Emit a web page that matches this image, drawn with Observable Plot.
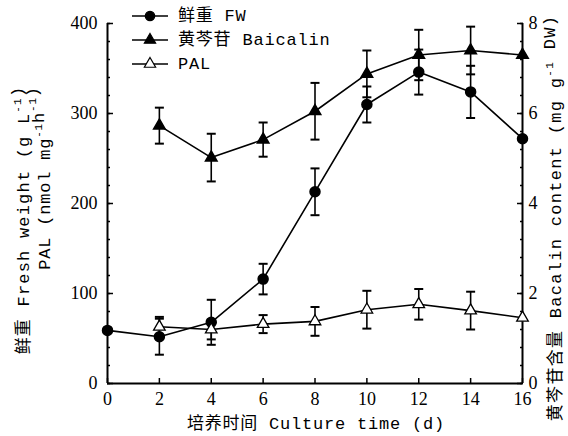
<!DOCTYPE html>
<html><head><meta charset="utf-8">
<script src="https://cdn.jsdelivr.net/npm/d3@7"></script>
<script src="https://cdn.jsdelivr.net/npm/@observablehq/plot@0.6"></script>
<style>body{margin:0;background:#fff} #chart{width:568px;height:436px}
#chart svg text.tick { font-family: "Liberation Serif", "DejaVu Serif", serif !important; }
</style>
</head><body><div id="chart"></div>
<script>
// ---- data ----
const fwDays  = [0, 2, 4, 6, 8, 10, 12, 14, 16];
const fwMean  = [59, 52, 68, 116, 213, 310, 346, 324, 272];   // g L-1 (left axis)
const fwErr   = [0, 20, 25, 17, 26, 20, 25, 29, 0];

const baiDays = [2, 4, 6, 8, 10, 12, 14, 16];
const baiMean = [5.73, 5.02, 5.42, 6.05, 6.88, 7.30, 7.40, 7.30]; // mg g-1 DW (right axis)
const baiErr  = [0.40, 0.53, 0.38, 0.63, 0.52, 0.56, 0.53, 0];

const palDays = [2, 4, 6, 8, 10, 12, 14, 16];
const palMean = [63, 60, 66, 69, 82, 88, 81, 73];              // nmol mg-1 h-1 (left axis)
const palErr  = [11, 11, 10, 16, 21, 17, 21, 0];

const xTicks      = [0, 2, 4, 6, 8, 10, 12, 14, 16];
const leftTicks   = [0, 100, 200, 300, 400];
const rightTicks  = [0, 2, 4, 6, 8];
const legendNames = ["鲜重 FW", "黄芩苷 Baicalin", "PAL"];

const leftMax = 400, rightMax = 8, k = leftMax / rightMax; // right axis mapped onto left

const fw  = fwDays.map((x, i) => ({x, y: fwMean[i], e: fwErr[i]}));
const bai = baiDays.map((x, i) => ({x, y: baiMean[i] * k, e: baiErr[i] * k}));
const pal = palDays.map((x, i) => ({x, y: palMean[i], e: palErr[i]}));
const bars = [...fw, ...bai, ...pal].filter(d => d.e > 0);

const cap = {draw(ctx) { ctx.moveTo(-4.5, 0); ctx.lineTo(4.5, 0); }};
const serif = "'Liberation Serif', 'DejaVu Serif', serif";
const blank = () => "";

const plot = Plot.plot({
  width: 568, height: 436,
  marginLeft: 107, marginRight: 46, marginTop: 23, marginBottom: 53,
  style: {fontSize: "18px", color: "#000", background: "#fff"},
  x: {domain: [0, 16]},
  y: {domain: [0, leftMax]},
  marks: [
    // frame lines
    Plot.ruleY([0], {strokeWidth: 2}),
    Plot.ruleX([0], {strokeWidth: 2}),
    Plot.ruleX([16], {strokeWidth: 2}),
    // x axis
    Plot.axisX({ticks: xTicks, tickSize: -5, tickFormat: blank, label: null, strokeWidth: 1.5}),
    Plot.axisX({ticks: xTicks, tickSize: 0, tickPadding: 9, label: null, fontSize: 18}),
    // left axis
    Plot.axisY({ticks: d3.range(0, leftMax + 1, 20), tickSize: -3, tickFormat: blank, label: null, strokeWidth: 1.5}),
    Plot.axisY({ticks: leftTicks, tickSize: -6, tickFormat: blank, label: null, strokeWidth: 1.5}),
    Plot.axisY({ticks: leftTicks, tickSize: 0, tickPadding: 10, label: null, fontSize: 18}),
    // right axis
    Plot.axisY({anchor: "right", ticks: d3.range(0, leftMax + 1, 20), tickSize: -3, tickFormat: blank, label: null, strokeWidth: 1.5}),
    Plot.axisY({anchor: "right", ticks: leftTicks, tickSize: -6, tickFormat: blank, label: null, strokeWidth: 1.5}),
    Plot.axisY({anchor: "right", ticks: rightTicks.map(v => v * k), tickSize: 0, tickPadding: 6, label: null,
                fontSize: 18, tickFormat: d => d / k}),
    // error bars
    Plot.ruleX(bars, {x: "x", y1: d => d.y - d.e, y2: d => d.y + d.e, strokeWidth: 1.6}),
    Plot.dot(bars, {x: "x", y: d => d.y - d.e, symbol: cap, stroke: "black", strokeWidth: 2}),
    Plot.dot(bars, {x: "x", y: d => d.y + d.e, symbol: cap, stroke: "black", strokeWidth: 2}),
    // lines
    Plot.line(fw,  {x: "x", y: "y", strokeWidth: 1.6}),
    Plot.line(bai, {x: "x", y: "y", strokeWidth: 1.6}),
    Plot.line(pal, {x: "x", y: "y", strokeWidth: 1.6}),
    // markers
    Plot.dot(fw,  {x: "x", y: "y", r: 5, fill: "black", stroke: "black"}),
    Plot.dot(bai, {x: "x", y: "y", r: 4.3, symbol: "triangle", fill: "black", stroke: "black"}),
    Plot.dot(pal, {x: "x", y: "y", r: 4.3, symbol: "triangle", fill: "white", stroke: "black", strokeWidth: 1.3})
  ]
});
document.getElementById("chart").appendChild(plot);

const svg = d3.select(plot);
// tick numbers in a serif face
plot.style.fontFamily = serif;
svg.selectAll("text").classed("tick", true)
  .attr("font-family", serif).style("font-family", serif);

// ---- titles and legend (text added to the same SVG) ----
const titleFont = "'Liberation Mono', 'Noto Sans CJK SC', monospace";

function title(x, y, rotate, parts, ls) {
  const t = svg.append("text")
    .attr("transform", `translate(${x},${y}) rotate(${rotate})`)
    .attr("text-anchor", "middle").attr("dominant-baseline", "central")
    .attr("font-family", titleFont).attr("font-size", 17)
    .attr("letter-spacing", ls).attr("fill", "black");
  parts.forEach(p => {
    if (typeof p === "string") t.append("tspan").text(p);
    else {
      t.append("tspan").attr("dy", -6).attr("font-size", 11).text(p.sup);
      t.append("tspan").attr("dy", 6).text("");
    }
  });
}
title(24, 220, -90, ["鲜重 Fresh weight (g L", {sup: "-1"}, ")"], 1.2);
title(45, 178, -90, ["PAL (nmol mg", {sup: "-1"}, "h", {sup: "-1"}, ")"], 0.8);
title(556, 218, -90, ["黄芩苷含量 Bacalin content (mg g", {sup: "-1"}, " DW)"], 1.3);
title(316, 424, 0, ["培养时间 Culture time (d)"], 0.8);

// legend
const legendRows = [16, 40, 64];
legendNames.forEach((name, i) => {
  const y = legendRows[i];
  const g = svg.append("g");
  g.append("line").attr("x1", 132).attr("x2", 168).attr("y1", y).attr("y2", y)
    .attr("stroke", "black").attr("stroke-width", 1.6);
  const sym = i === 0 ? d3.symbolCircle : d3.symbolTriangle;
  g.append("path").attr("d", d3.symbol(sym, i === 0 ? 70 : 55)())
    .attr("transform", `translate(150,${y})`)
    .attr("fill", i === 2 ? "white" : "black").attr("stroke", "black").attr("stroke-width", 1.2);
  g.append("text").attr("x", 178).attr("y", y).attr("dominant-baseline", "central")
    .attr("text-anchor", "start")
    .attr("font-family", titleFont).attr("font-size", 17).attr("letter-spacing", 0.8)
    .text(name);
});
</script>
</body></html>
